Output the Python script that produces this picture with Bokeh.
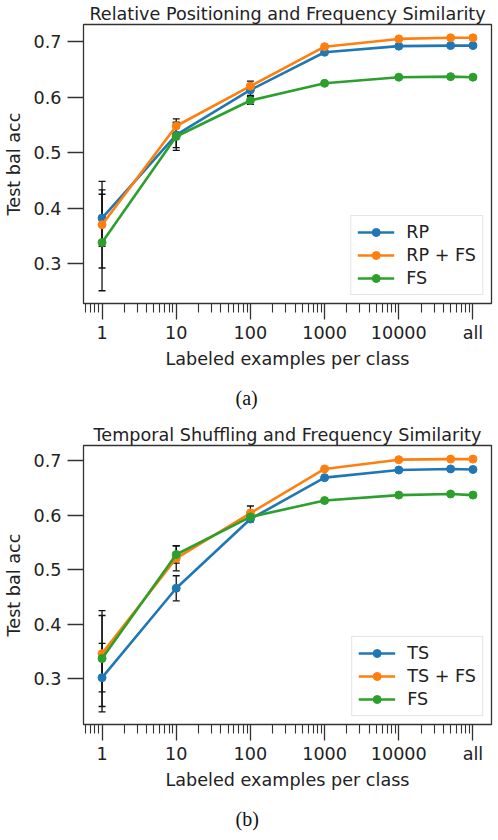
from bokeh.plotting import figure
from bokeh.layouts import column
from bokeh.models import (Range1d, FixedTicker, ColumnDataSource, Whisker, TeeHead, Title)
from bokeh.embed import file_html
from bokeh.resources import INLINE

# ---------------- data ----------------
x_positions = [1, 10, 100, 1000, 10000, 50000, 100000]
x_tick_values = [1, 10, 100, 1000, 10000, 100000]
x_tick_labels = ["1", "10", "100", "1000", "10000", "all"]
y_tick_values = [0.3, 0.4, 0.5, 0.6, 0.7]

# (a) Relative Positioning and Frequency Similarity
rp_mean = [0.382, 0.532, 0.613, 0.681, 0.692, 0.693, 0.693]
rp_std = [0.051, 0.023, 0.010, 0.002, 0.002, 0.002, 0.002]
rpfs_mean = [0.370, 0.548, 0.620, 0.691, 0.705, 0.707, 0.707]
rpfs_std = [0.078, 0.013, 0.009, 0.002, 0.002, 0.002, 0.002]
fsa_mean = [0.338, 0.529, 0.594, 0.625, 0.636, 0.637, 0.636]
fsa_std = [0.087, 0.025, 0.007, 0.002, 0.002, 0.002, 0.002]

# (b) Temporal Shuffling and Frequency Similarity
ts_mean = [0.302, 0.466, 0.593, 0.669, 0.683, 0.685, 0.684]
ts_std = [0.063, 0.023, 0.005, 0.002, 0.002, 0.002, 0.002]
tsfs_mean = [0.346, 0.521, 0.604, 0.685, 0.702, 0.703, 0.703]
tsfs_std = [0.070, 0.023, 0.013, 0.002, 0.002, 0.002, 0.002]
fsb_mean = [0.337, 0.528, 0.597, 0.627, 0.637, 0.639, 0.637]
fsb_std = [0.088, 0.016, 0.005, 0.002, 0.002, 0.002, 0.002]

COLORS = ["#1f77b4", "#ff7f0e", "#2ca02c"]
TXT = "#222222"
FONT = "DejaVu Sans"
FS = "17.6px"


def make_panel(title, series, ylim, caption, border_bottom, cap_standoff):
    p = figure(x_axis_type="log",
               x_range=Range1d(10 ** -0.25, 10 ** 5.25),
               y_range=Range1d(*ylim),
               frame_width=408, frame_height=279,
               min_border_left=72, min_border_right=2,
               min_border_top=22, min_border_bottom=border_bottom,
               output_backend="svg", toolbar_location=None)
    p.title.text = title
    p.title.align = "center"
    p.title.text_font = FONT
    p.title.text_font_size = FS
    p.title.text_font_style = "normal"
    p.title.text_color = TXT
    p.title.standoff = 2

    p.xgrid.visible = False
    p.ygrid.visible = False
    p.outline_line_color = "#333333"
    p.outline_line_width = 1.3
    p.background_fill_color = "white"
    p.border_fill_color = "white"

    minor = []
    for d in range(-1, 6):
        for k in range(2, 10):
            minor.append(k * 10 ** d)
    p.xaxis.ticker = FixedTicker(ticks=x_tick_values, minor_ticks=minor)
    p.xaxis.major_label_overrides = {v: lab for v, lab in zip(x_tick_values, x_tick_labels)}
    p.yaxis.ticker = FixedTicker(ticks=y_tick_values, minor_ticks=[])

    for ax in (p.xaxis[0], p.yaxis[0]):
        ax.axis_line_color = None
        ax.major_tick_line_color = "#333333"
        ax.minor_tick_line_color = "#333333"
        ax.major_tick_line_width = 1.3
        ax.minor_tick_line_width = 1.1
        ax.major_tick_out = 16
        ax.major_tick_in = 0
        ax.minor_tick_out = 9
        ax.minor_tick_in = 0
        ax.major_label_text_font = FONT
        ax.major_label_text_font_size = FS
        ax.major_label_text_color = TXT
        ax.axis_label_text_font = FONT
        ax.axis_label_text_font_size = FS
        ax.axis_label_text_font_style = "normal"
        ax.axis_label_text_color = TXT
    p.xaxis.major_label_standoff = 3
    p.xaxis.axis_label_standoff = 3
    p.yaxis.major_label_standoff = 6
    p.yaxis.axis_label_standoff = 7
    p.xaxis.axis_label = "Labeled examples per class"
    p.yaxis.axis_label = "Test bal acc"

    for (label, mean, std), color in zip(series, COLORS):
        src = ColumnDataSource(dict(
            x=x_positions, y=mean,
            upper=[m + s for m, s in zip(mean, std)],
            lower=[m - s for m, s in zip(mean, std)]))
        p.line("x", "y", source=src, line_color=color, line_width=2.6,
               legend_label=label)
        p.scatter("x", "y", source=src, size=8, fill_color=color,
                  line_color=color, legend_label=label)
        w = Whisker(base="x", upper="upper", lower="lower", source=src,
                    dimension="height", line_color="#111111", line_width=1.3,
                    upper_head=TeeHead(size=7, line_color="#111111", line_width=1.3),
                    lower_head=TeeHead(size=7, line_color="#111111", line_width=1.3))
        p.add_layout(w)

    lg = p.legend[0]
    lg.location = "bottom_right"
    lg.margin = 8
    lg.padding = 6
    lg.spacing = 3
    lg.glyph_width = 37
    lg.glyph_height = 20
    lg.label_height = 20
    lg.label_standoff = 12
    lg.label_text_font = FONT
    lg.label_text_font_size = FS
    lg.label_text_color = TXT
    lg.border_line_color = "#cccccc"
    lg.border_line_width = 1.2
    lg.background_fill_alpha = 0.85

    cap = Title(text=caption, align="left", offset=152,
                text_font="Liberation Serif", text_font_size="20px",
                text_font_style="normal", text_color="#111111",
                standoff=cap_standoff)
    p.add_layout(cap, "below")
    return p


p1 = make_panel("Relative Positioning and Frequency Similarity",
                [("RP", rp_mean, rp_std), ("RP + FS", rpfs_mean, rpfs_std),
                 ("FS", fsa_mean, fsa_std)],
                (0.228, 0.731), "(a)", 117, 26)
p2 = make_panel("Temporal Shuffling and Frequency Similarity",
                [("TS", ts_mean, ts_std), ("TS + FS", tsfs_mean, tsfs_std),
                 ("FS", fsb_mean, fsb_std)],
                (0.216, 0.728), "(b)", 105, 26)

layout = column(p1, p2, spacing=0)
open("out.html", "w").write(file_html(layout, INLINE))
